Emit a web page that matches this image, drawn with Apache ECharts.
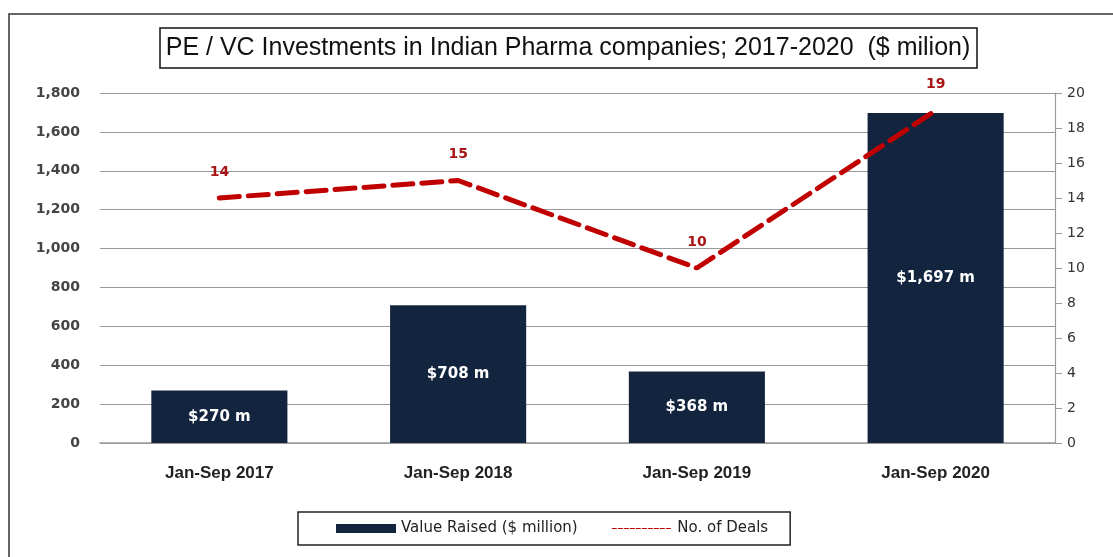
<!DOCTYPE html>
<html>
<head>
<meta charset="utf-8">
<script src="https://cdn.jsdelivr.net/npm/echarts@6/dist/echarts.min.js"></script>
<style>
  html, body { margin: 0; padding: 0; background: #fff; }
  #chart { width: 1113px; height: 557px; }
</style>
</head>
<body>
<div id="chart"></div>
<script>
// Periods on the x axis
const periods = ['Jan-Sep 2017', 'Jan-Sep 2018', 'Jan-Sep 2019', 'Jan-Sep 2020'];
// Amount raised, $ million
const valueRaised = [270, 708, 368, 1697];
// Number of deals
const dealCount = [14, 15, 10, 19];

const chart = echarts.init(document.getElementById('chart'));

const sans = '"Liberation Sans", Arial, sans-serif';
const verd = '"DejaVu Sans", Verdana, sans-serif';

chart.setOption({
  animation: false,
  backgroundColor: '#ffffff',
  graphic: [
    { type: 'rect', shape: { x: 9, y: 14, width: 1120, height: 560 },
      style: { fill: 'none', stroke: '#333', lineWidth: 1.5 }, silent: true },
    { type: 'rect', shape: { x: 160, y: 28, width: 817, height: 40 },
      style: { fill: '#fff', stroke: '#111', lineWidth: 1.5 }, silent: true },
    { type: 'text', x: 568, y: 48,
      style: { text: 'PE / VC Investments in Indian Pharma companies; 2017-2020  ($ milion)',
               font: '25px ' + sans, fill: '#111', align: 'center', verticalAlign: 'middle' } }
  ],
  grid: { left: 100, right: 58, top: 93, bottom: 114 },
  legend: {
    left: 298, top: 512,
    padding: [9, 22, 9, 38],
    borderColor: '#222', borderWidth: 1.5,
    itemGap: 34,
    itemWidth: 60, itemHeight: 9,
    textStyle: { fontFamily: verd, fontSize: 15, color: '#222' },
    data: [
      { name: 'Value Raised ($ million)', icon: 'rect' },
      { name: 'No. of Deals',
        lineStyle: { width: 1.2, type: [4, 2], color: '#C00000' },
        itemStyle: { opacity: 0 } }
    ]
  },
  xAxis: {
    type: 'category',
    data: periods,
    axisLine: { lineStyle: { color: '#999', width: 1.5 } },
    axisTick: { show: false },
    axisLabel: { margin: 22, fontFamily: sans, fontWeight: 'bold', fontSize: 17, color: '#222' }
  },
  yAxis: [
    {
      type: 'value', min: 0, max: 1800, interval: 200,
      axisLine: { show: false }, axisTick: { show: false },
      splitLine: { lineStyle: { color: '#999', width: 1.2 } },
      axisLabel: { margin: 20, fontFamily: verd, fontWeight: 'bold', fontSize: 14, color: '#444',
                   formatter: v => v.toLocaleString('en-US') }
    },
    {
      type: 'value', min: 0, max: 20, interval: 2,
      axisLine: { show: true, lineStyle: { color: '#999', width: 1.2 } },
      axisTick: { show: true, length: 7, lineStyle: { color: '#999' } },
      splitLine: { show: false },
      axisLabel: { margin: 12, fontFamily: verd, fontSize: 14, color: '#333' }
    }
  ],
  series: [
    {
      name: 'Value Raised ($ million)',
      type: 'bar',
      data: valueRaised,
      barWidth: '57%',
      itemStyle: { color: '#13243F' },
      label: {
        show: true, position: 'inside',
        formatter: p => '$' + p.value.toLocaleString('en-US') + ' m',
        fontFamily: verd, fontWeight: 'bold', fontSize: 15, color: '#fff'
      }
    },
    {
      name: 'No. of Deals',
      type: 'line',
      yAxisIndex: 1,
      data: dealCount,
      symbol: 'circle',
      symbolSize: 2,
      showSymbol: true,
      lineStyle: { color: '#C00000', width: 5, type: [20, 9], cap: 'round' },
      itemStyle: { color: 'rgba(192,0,0,0)', borderWidth: 0 },
      label: {
        show: true, position: 'top', distance: 18,
        fontFamily: verd, fontWeight: 'bold', fontSize: 14, color: '#A81515'
      },
      z: 5
    }
  ]
});
</script>
</body>
</html>
